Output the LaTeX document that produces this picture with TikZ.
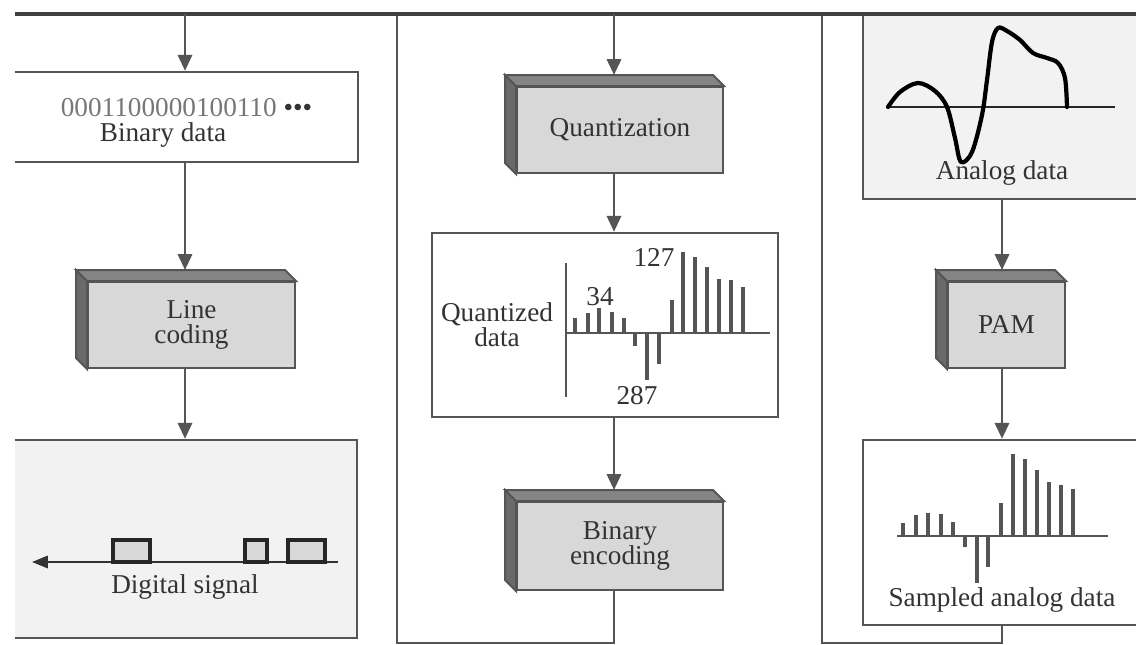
\documentclass[tikz,border=0pt]{standalone}
\usepackage{fontspec}
\setmainfont{Liberation Serif}
\usetikzlibrary{arrows.meta}
\definecolor{ln}{HTML}{555555}
\definecolor{busc}{HTML}{404040}
\definecolor{txt}{HTML}{333333}
\definecolor{digc}{HTML}{777777}
\definecolor{facec}{HTML}{D8D8D8}
\definecolor{topc}{HTML}{858585}
\definecolor{sidec}{HTML}{6A6A6A}
\definecolor{panel}{HTML}{F2F2F2}
\newcommand\boxfaces[1]{%
  \filldraw[draw=ln,line width=1.1pt,fill=sidec] (#1.north west) -- ++(-11,-11) -- ([shift={(-11,-11)}]#1.south west) -- (#1.south west) -- cycle;
  \filldraw[draw=ln,line width=1.1pt,fill=topc] (#1.north west) -- ++(-11,-11) -- ([shift={(-11,-11)}]#1.north east) -- (#1.north east) -- cycle;}
\begin{document}
\begin{tikzpicture}[x=0.02cm,y=-0.02cm,
  lbl/.style={text=txt,font=\fontsize{15.5}{14.2}\selectfont,inner sep=0pt,align=center},
  conn/.style={draw=ln,line width=1.6pt},
  arr/.style={conn,-{Triangle[width=8pt,length=9pt]}},
  bus/.style={draw=busc,line width=2.3pt},
  face/.style={draw=ln,line width=1.1pt,fill=facec,inner sep=0pt,text=txt,font=\fontsize{15.5}{14.2}\selectfont,align=center},
  panelbox/.style={draw=ln,line width=1.4pt,inner sep=0pt},
  bar/.style={draw=ln,line width=2pt},
  pulse/.style={draw=black!85,line width=2pt,fill=black!15},
]
\useasboundingbox (0,0) rectangle (1136,645);
\clip (15,-5) rectangle (1141,650);
\fill[white] (0,0) rectangle (1136,645);

% bus and coordinates
\coordinate (busL) at (15,14);
\coordinate (busR) at (1141,14);
\coordinate (t1) at (185,14);
\coordinate (t2) at (614,14);
\coordinate (t3) at (1002,14);
\coordinate (d1t) at (397,14);
\coordinate (d1b) at (397,643);
\coordinate (d2t) at (822,14);
\coordinate (d2b) at (822,643);
\coordinate (b2) at (614,643);
\coordinate (b3) at (1002,643);

% panels
\node[panelbox,fill=white,minimum width=7.06cm,minimum height=1.8cm] (bin) at (181.5,117) {};
\node[panelbox,fill=panel,minimum width=7.04cm,minimum height=3.96cm] (dig) at (181,539) {};
\node[panelbox,fill=white,minimum width=6.92cm,minimum height=3.68cm] (qbox) at (605,325) {};
\node[panelbox,fill=panel,minimum width=5.74cm,minimum height=3.68cm] (ana) at (1006.5,107) {};
\node[panelbox,fill=white,minimum width=5.74cm,minimum height=3.7cm] (samp) at (1006.5,532.5) {};

% 3D process boxes
\node[face,minimum width=4.14cm,minimum height=1.72cm] (lc) at (191.5,325) {Line\\coding};
\boxfaces{lc}
\node[face,minimum width=4.12cm,minimum height=1.72cm] (qz) at (620,130) {Quantization};
\boxfaces{qz}
\node[face,minimum width=4.12cm,minimum height=1.76cm] (be) at (620,546) {Binary\\encoding};
\boxfaces{be}
\node[face,minimum width=2.34cm,minimum height=1.72cm] (pam) at (1006.5,325) {PAM};
\boxfaces{pam}

\coordinate (lcT) at ([yshift=0.22cm]lc.north);
\coordinate (qzT) at ([yshift=0.22cm]qz.north);
\coordinate (beT) at ([yshift=0.22cm]be.north);
\coordinate (pamT) at ([yshift=0.22cm]pam.north);

% frame lines
\draw[conn] (d1t) -- (d1b) -- (b2) -- (t2 |- be.south);
\draw[conn] (d2t) -- (d2b) -- (b3) -- (t3 |- samp.south);
\draw[bus] (busL) -- (busR);

% connectors
\draw[arr] (t1) -- (t1 |- bin.north);
\draw[arr] (t1 |- bin.south) -- (t1 |- lcT);
\draw[arr] (t1 |- lc.south) -- (t1 |- dig.north);
\draw[arr] (t2) -- (t2 |- qzT);
\draw[arr] (t2 |- qz.south) -- (t2 |- qbox.north);
\draw[arr] (t2 |- qbox.south) -- (t2 |- beT);
\draw[arr] (t3 |- ana.south) -- (t3 |- pamT);
\draw[arr] (t3 |- pam.south) -- (t3 |- samp.north);

% binary data text
\node[lbl,text=digc,font=\fontsize{15.5}{16}\selectfont] (bits) at (186.5,108) {0001100000100110 \textcolor{txt}{\textbullet\textbullet\textbullet}};
\node[lbl] (binlbl) at (163,135) {Binary data};

% digital signal
\coordinate (sigR) at (338,562);
\coordinate (sigL) at (32,562);
\draw[draw=black!80,line width=1.3pt,-{Triangle[width=7pt,length=9pt]}] (sigR) -- (sigL);
\draw[pulse] (113,540) rectangle (150,562);
\draw[pulse] (245,540) rectangle (267,562);
\draw[pulse] (288,540) rectangle (325,562);
\node[lbl] (diglbl) at (185,587) {Digital signal};

% quantized data chart
\node[lbl] (qlbl) at (497,325) {Quantized\\data};
\draw[conn] (566,263) -- (566,397);
\draw[conn] (566,333) -- (770,333);
\foreach \x/\y in {575/318, 588/313, 599/308, 612/312, 624/318, 635/346, 647/380, 659/364, 672/300, 683/252, 695/257, 707/267, 719/279, 731/280, 743/287}
  \draw[bar] (\x,333) -- (\x,\y);
\node[lbl] (n34) at (600,297) {34};
\node[lbl] (n127) at (654,257) {127};
\node[lbl] (n287) at (637,396) {287};

% analog waveform
\draw[draw=black!85,line width=1.1pt] (888,107) -- (1115,107);
\draw[black,line width=2.4pt,line cap=round,line join=round] plot[smooth,tension=0.55] coordinates {(888,107) (900,92) (918,83) (935,91) (947,107) (955,138) (961,162) (972,152) (982,115) (987,80) (992,42) (998,28) (1007,31) (1020,40) (1033,53) (1047,58) (1058,63) (1065,78) (1067,107)};
\node[lbl] (analbl) at (1002,173) {Analog data};

% sampled analog data chart
\draw[conn] (897,536) -- (1108,536);
\foreach \x/\y in {903/523, 916/515, 928/513, 941/514, 953/522, 965/547, 977/583, 988/567, 1001/503, 1013/454, 1025/459, 1037/470, 1049/482, 1061/485, 1073/489}
  \draw[bar] (\x,536) -- (\x,\y);
\node[lbl] (samplbl) at (1002,600) {Sampled analog data};
\end{tikzpicture}
\end{document}
